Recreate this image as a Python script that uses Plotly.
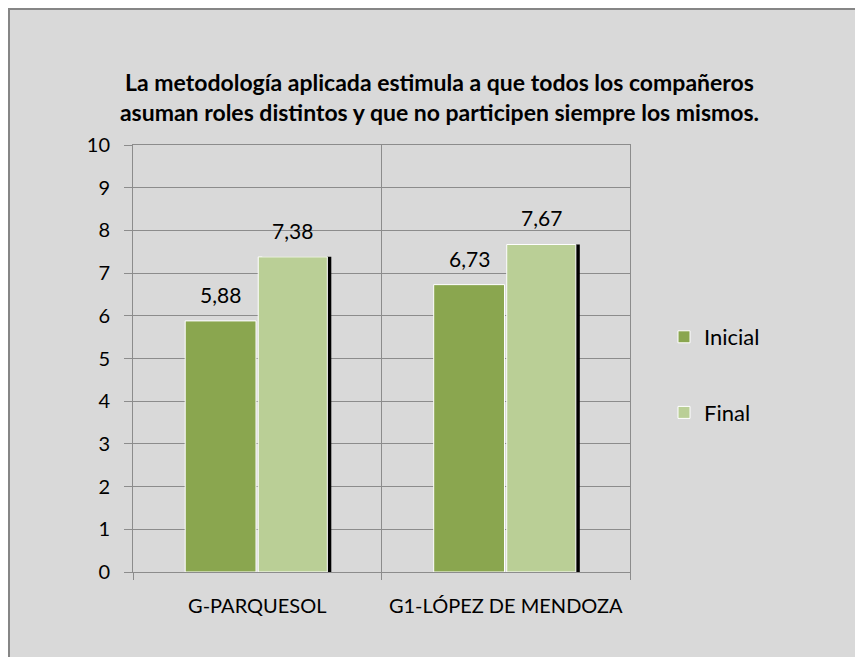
import plotly.graph_objects as go

grupos = ["G-PARQUESOL", "G1-LÓPEZ DE MENDOZA"]
inicial = [5.88, 6.73]
final = [7.38, 7.67]

# pixel layout of the original chart (screen coords); the page has an 8px body margin
W, H = 863, 657
OFF = 8
L, R, T, B = 133 - OFF, 630 - OFF, 145 - OFF, 572 - OFF
CAT_W = (R - L) / len(grupos)


def px(x):
    return (x - OFF - L) / (R - L)


def py(y):
    return (B - (y - OFF)) / (B - T)


FONT = "Lato"
VERDE = "#8AA64F"
VERDE_CLARO = "#BACF96"
GRIS = "#8C8C8C"

# bar geometry, in category units
OFF_INI, W_INI = -0.29, 0.285
OFF_FIN, W_FIN = 0.004, 0.278

fig = go.Figure()

fig.add_trace(go.Bar(
    x=grupos, y=inicial, name="Inicial", legendgroup="a",
    marker=dict(color=VERDE, line=dict(color="white", width=1)),
    offset=OFF_INI, width=W_INI,
))
# shadow behind the light bar
fig.add_trace(go.Bar(
    x=grupos, y=final, showlegend=False, hoverinfo="skip",
    marker=dict(color="black", line=dict(width=0)),
    offset=OFF_FIN + 0.016, width=W_FIN,
))
fig.add_trace(go.Bar(
    x=grupos, y=final, name="Final", legendgroup="b",
    marker=dict(color=VERDE_CLARO, line=dict(color="white", width=1)),
    offset=OFF_FIN, width=W_FIN,
))

# data labels, a bit higher above the bars than plotly's default
for serie, off, w in [(inicial, OFF_INI, W_INI), (final, OFF_FIN, W_FIN)]:
    for g, v in zip(grupos, serie):
        fig.add_annotation(
            x=g, y=v, text=f"{v:.2f}".replace(".", ","),
            showarrow=False, yanchor="bottom", yshift=12,
            xshift=(off + w / 2) * CAT_W,
            font=dict(family=FONT, size=21, color="black"),
        )

fig.update_layout(
    width=W, height=H,
    margin=dict(l=L, r=W - R, t=T, b=H - B, pad=0),
    barmode="overlay",
    separators=",.",
    paper_bgcolor="white",
    plot_bgcolor="white",
    font=dict(family=FONT, size=20, color="black"),
    title=dict(
        text="<b>La metodología aplicada estimula a que todos los compañeros<br>"
             "asuman roles distintos y que no participen siempre los mismos.</b>",
        x=0.5, xref="container", xanchor="center",
        y=1 - (91 - OFF) / H, yref="container", yanchor="middle",
        font=dict(family=FONT, size=23, color="black"),
    ),
    legend=dict(
        x=px(664), y=py(375), xanchor="left", yanchor="middle",
        bgcolor="rgba(0,0,0,0)", tracegroupgap=44,
        font=dict(family=FONT, size=22, color="black"),
    ),
    showlegend=True,
    shapes=[dict(
        type="rect", xref="paper", yref="paper", layer="below",
        x0=px(9), x1=px(880), y0=py(680), y1=py(9),
        fillcolor="#D9D9D9", line=dict(color="#868686", width=2),
    )],
)

fig.update_xaxes(
    type="category", tickson="boundaries",
    showgrid=True, gridcolor=GRIS, gridwidth=1,
    showline=True, linecolor=GRIS, linewidth=1, mirror=True,
    ticks="outside", ticklen=7, tickcolor=GRIS,
    ticklabelstandoff=16,
    tickfont=dict(size=20),
    range=[-0.5, 1.5],
)
fig.update_yaxes(
    range=[0, 10], dtick=1, tick0=0,
    showgrid=True, gridcolor=GRIS, gridwidth=1,
    showline=True, linecolor=GRIS, linewidth=1, mirror=True,
    ticks="outside", ticklen=8, tickcolor=GRIS,
    ticklabelstandoff=10, zeroline=False,
    tickfont=dict(size=20),
)

fig.write_html("out.html")
